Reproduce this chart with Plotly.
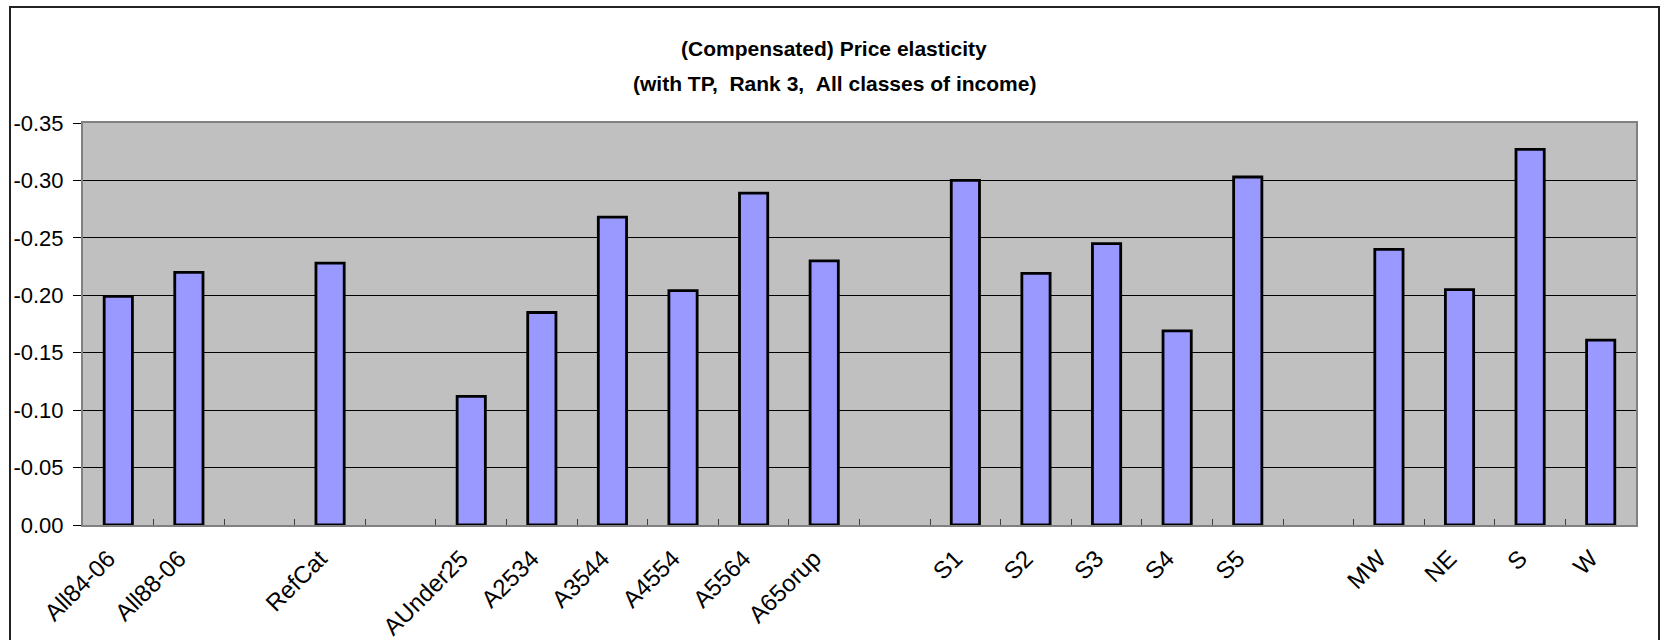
import plotly.graph_objects as go

# Categories (blank entries leave gaps between the groups)
CATEGORIES = ["All84-06", "All88-06", " ", "RefCat", "  ",
              "AUnder25", "A2534", "A3544", "A4554", "A5564", "A65orup", "   ",
              "S1", "S2", "S3", "S4", "S5", "    ",
              "MW", "NE", "S", "W"]
ELASTICITY = [-0.199, -0.220, None, -0.228, None,
              -0.112, -0.185, -0.268, -0.204, -0.289, -0.230, None,
              -0.300, -0.219, -0.245, -0.169, -0.303, None,
              -0.240, -0.205, -0.327, -0.161]

Y_TICKS = [0.00, -0.05, -0.10, -0.15, -0.20, -0.25, -0.30, -0.35]
Y_TICK_TEXT = ["0.00", "-0.05", "-0.10", "-0.15", "-0.20", "-0.25", "-0.30", "-0.35"]

TITLE_1 = "(Compensated) Price elasticity"
TITLE_2 = "(with TP,\u00a0\u00a0Rank 3,\u00a0\u00a0All classes of income)"

W, H = 1666, 640
ML, MR, MT, MB = 83, 30, 123, 115
FONT = "Liberation Sans, Arial, sans-serif"

fig = go.Figure()
fig.add_bar(
    x=CATEGORIES,
    y=ELASTICITY,
    marker=dict(color="#9999FF", line=dict(color="black", width=2.8)),
    showlegend=False,
)

pw = W - ML - MR
ph = H - MT - MB


def px_x(v):
    return (v - ML) / pw


def px_y(v):
    return (H - MB - v) / ph


fig.update_layout(
    width=W,
    height=H,
    margin=dict(l=ML, r=MR, t=MT, b=MB, pad=0, autoexpand=False),
    paper_bgcolor="white",
    plot_bgcolor="#C0C0C0",
    bargap=0.6,
    font=dict(family=FONT, size=20, color="black"),
    xaxis=dict(
        type="category",
        categoryorder="array",
        categoryarray=CATEGORIES,
        automargin=False,
        tickson="boundaries",
        ticks="inside",
        ticklen=6,
        tickwidth=1,
        tickcolor="#404040",
        tickangle=-45,
        ticklabelstandoff=8,
        ticklabelshift=-10,
        tickfont=dict(family=FONT, size=24, color="black"),
        showline=True,
        linecolor="#808080",
        linewidth=2,
        mirror=True,
        showgrid=False,
        zeroline=False,
    ),
    yaxis=dict(
        range=[0, -0.35],
        tickmode="array",
        tickvals=Y_TICKS,
        ticktext=Y_TICK_TEXT,
        automargin=False,
        ticks="outside",
        ticklen=8,
        tickwidth=1,
        tickcolor="black",
        ticklabelstandoff=5,
        tickfont=dict(family=FONT, size=22, color="black"),
        showgrid=True,
        gridcolor="black",
        gridwidth=1,
        zeroline=False,
        showline=True,
        linecolor="#808080",
        linewidth=2,
        mirror=True,
    ),
    annotations=[
        dict(text="<b>" + TITLE_1 + "</b>", xref="paper", yref="paper",
             x=px_x(834), y=px_y(48), xanchor="center", yanchor="middle",
             showarrow=False, font=dict(family=FONT, size=21, color="black")),
        dict(text="<b>" + TITLE_2 + "</b>", xref="paper", yref="paper",
             x=px_x(834), y=px_y(83), xanchor="center", yanchor="middle",
             showarrow=False, font=dict(family=FONT, size=21, color="black")),
    ],
    shapes=[
        # outer chart frame
        dict(type="rect", xref="paper", yref="paper", layer="below",
             x0=px_x(10), x1=px_x(1659), y0=px_y(660), y1=px_y(7),
             line=dict(color="#222222", width=2), fillcolor="rgba(0,0,0,0)"),
    ],
)

fig.write_html("out.html")
